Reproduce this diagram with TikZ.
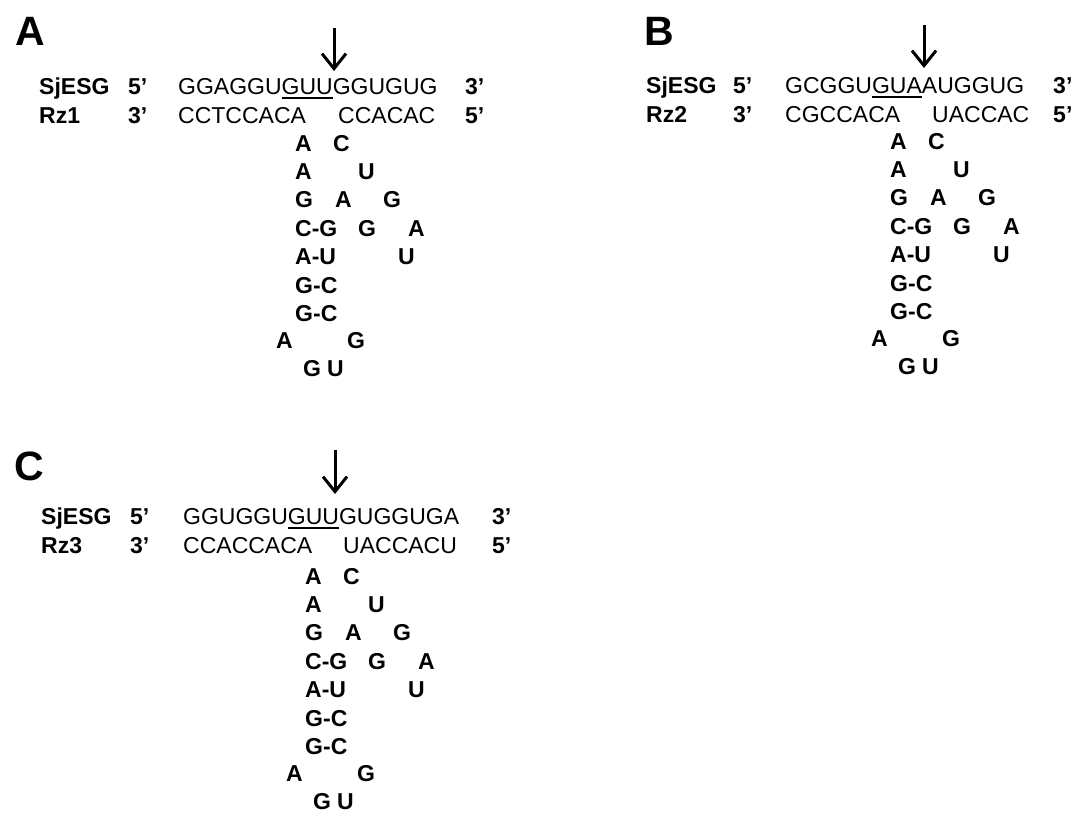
\documentclass[tikz,border=0pt]{standalone}
\usepackage{fontspec}
\setmainfont{Liberation Sans}
\usetikzlibrary{arrows.meta}
\newcommand\seqsize{\fontsize{23}{27}\selectfont}
\newcommand\ulx[1]{\setbox0\hbox{#1}\rlap{\rule[-4.5pt]{\wd0}{1.8pt}}\box0}
\tikzset{
  seq/.style={anchor=base west, inner sep=0pt, font=\seqsize},
  lab/.style={anchor=base west, inner sep=0pt, font=\seqsize\bfseries},
  nt/.style={anchor=base west, inner sep=0pt, font=\seqsize\bfseries},
  panel/.style={anchor=base west, inner sep=0pt, font=\fontsize{41}{45}\selectfont\bfseries},
  cut/.style={line width=3pt, -{Straight Barb[length=15pt,width=24pt]}},
}
\newcommand\rzhairpin[3]{%
  \begin{scope}[shift={(#2,#3)}]
    \node[nt] (#1a1) at (295,151) {A};
    \node[nt] (#1b1) at (333,151) {C};
    \node[nt] (#1a2) at (295,179) {A};
    \node[nt] (#1b2) at (358,179) {U};
    \node[nt] (#1a3) at (295,207) {G};
    \node[nt] (#1b3) at (335,207) {A};
    \node[nt] (#1c3) at (383,207) {G};
    \node[nt] (#1a4) at (295,236) {C-G};
    \node[nt] (#1b4) at (358,236) {G};
    \node[nt] (#1c4) at (408,236) {A};
    \node[nt] (#1a5) at (295,264) {A-U};
    \node[nt] (#1b5) at (398,264) {U};
    \node[nt] (#1a6) at (295,293) {G-C};
    \node[nt] (#1a7) at (295,321) {G-C};
    \node[nt] (#1a8) at (276,348) {A};
    \node[nt] (#1b8) at (347,348) {G};
    \node[nt] (#1a9) at (303,376) {G};
    \node[nt] (#1b9) at (327,376) {U};
  \end{scope}}
\begin{document}
\begin{tikzpicture}[x=1pt,y=-1pt]
  \useasboundingbox (0,0) rectangle (1087,822);
  % ---------------- Panel A
  \node[panel] (pA) at (15,45) {A};
  \node[lab] (sA) at (39,94) {SjESG};
  \node[lab] (s5A) at (128,94) {5’};
  \node[seq] (seqA) at (178,94) {GGAGGU\ulx{GUU}GGUGUG};
  \node[lab] (s3A) at (465,94) {3’};
  \node[lab] (rA) at (39,123) {Rz1};
  \node[lab] (r3A) at (128,123) {3’};
  \node[seq] (r1A) at (178,123) {CCTCCACA};
  \node[seq] (r2A) at (338,123) {CCACAC};
  \node[lab] (r5A) at (465,123) {5’};
  \coordinate (topA) at (334,28);
  \coordinate (tipA) at (334,71);
  \draw[cut] (topA) -- (tipA);
  \rzhairpin{hA}{0}{0}
  % ---------------- Panel B
  \node[panel] (pB) at (644,45) {B};
  \node[lab] (sB) at (646,93) {SjESG};
  \node[lab] (s5B) at (733,93) {5’};
  \node[seq] (seqB) at (785,93) {GCGGU\ulx{GUA}AUGGUG};
  \node[lab] (s3B) at (1053,93) {3’};
  \node[lab] (rB) at (646,122) {Rz2};
  \node[lab] (r3B) at (733,122) {3’};
  \node[seq] (r1B) at (785,122) {CGCCACA};
  \node[seq] (r2B) at (932,122) {UACCAC};
  \node[lab] (r5B) at (1053,122) {5’};
  \coordinate (topB) at (924,25);
  \coordinate (tipB) at (924,68);
  \draw[cut] (topB) -- (tipB);
  \rzhairpin{hB}{595}{-2}
  % ---------------- Panel C
  \node[panel] (pC) at (14,480) {C};
  \node[lab] (sC) at (41,524) {SjESG};
  \node[lab] (s5C) at (130,524) {5’};
  \node[seq] (seqC) at (183,524) {GGUGGU\ulx{GUU}GUGGUGA};
  \node[lab] (s3C) at (492,524) {3’};
  \node[lab] (rC) at (41,553) {Rz3};
  \node[lab] (r3C) at (130,553) {3’};
  \node[seq] (r1C) at (183,553) {CCACCACA};
  \node[seq] (r2C) at (343,553) {UACCACU};
  \node[lab] (r5C) at (492,553) {5’};
  \coordinate (topC) at (335,450);
  \coordinate (tipC) at (335,494);
  \draw[cut] (topC) -- (tipC);
  \rzhairpin{hC}{10}{433}
\end{tikzpicture}
\end{document}
